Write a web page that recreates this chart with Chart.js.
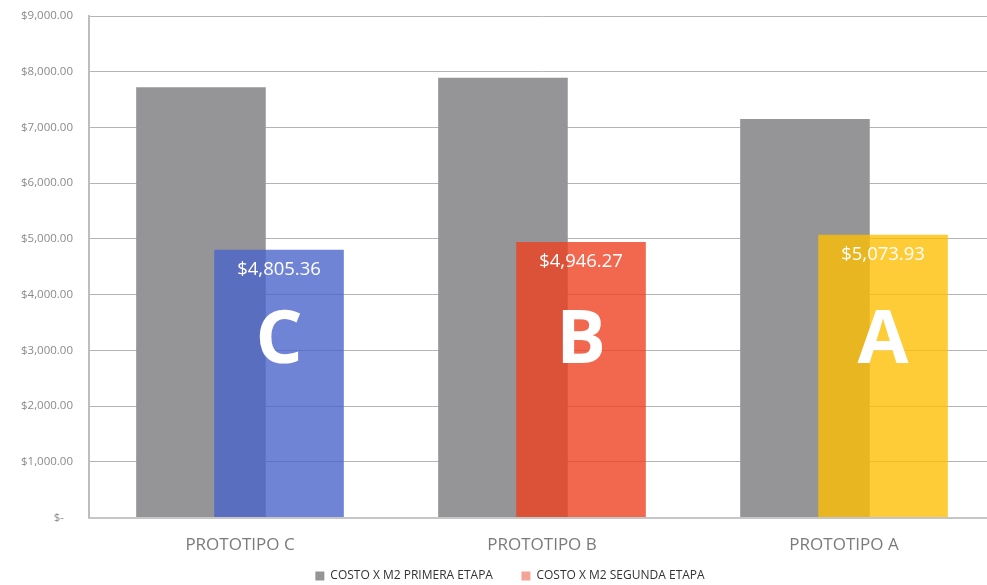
<!DOCTYPE html>
<html>
<head>
<meta charset="utf-8">
<script src="https://cdn.jsdelivr.net/npm/chart.js@4.4.1/dist/chart.umd.min.js"></script>
<style>
  html, body { margin: 0; padding: 0; background: #ffffff; overflow: hidden; }
  #wrap { width: 1020px; height: 592px; position: relative; }
</style>
</head>
<body>
<div id="wrap"><canvas id="chart"></canvas></div>
<script>
// Categories and values
const categories = ['PROTOTIPO C', 'PROTOTIPO B', 'PROTOTIPO A'];
const letters = ['C', 'B', 'A'];
const seriesNames = ['COSTO X M2 PRIMERA ETAPA', 'COSTO X M2 SEGUNDA ETAPA'];
const primeraEtapa = [7720, 7890, 7150];
const segundaEtapa = [4805.36, 4946.27, 5073.93];
const yTicks = [0, 1000, 2000, 3000, 4000, 5000, 6000, 7000, 8000, 9000];

const grayColor = '#959597';
const stageColors = ['rgba(74,99,203,0.79)', 'rgba(238,63,31,0.79)', 'rgba(254,190,0,0.79)'];
const legendSecondColor = '#f4a497';
const fontFamily = '"Open Sans", "Noto Sans", sans-serif';

const money = v => '$' + v.toLocaleString('en-US', { minimumFractionDigits: 2, maximumFractionDigits: 2 });

// Draw the second-stage bars on top of the first-stage ones, then their labels
const overlayPlugin = {
  id: 'overlay',
  afterLayout(chart) {
    // centre the legend row a little to the right
    if (chart.legend) chart.legend.left += 25;
  },
  beforeDatasetDraw(chart, args) {
    if (args.index === 1) return false;
  },
  afterDatasetsDraw(chart) {
    const meta = chart.getDatasetMeta(1);
    const ctx = chart.ctx;
    meta.controller.draw();
    const y = chart.scales.y;
    ctx.save();
    ctx.fillStyle = '#ffffff';
    ctx.textAlign = 'center';
    meta.data.forEach((bar, i) => {
      ctx.font = '18.5px ' + fontFamily;
      ctx.textBaseline = 'middle';
      ctx.fillText(money(segundaEtapa[i]), bar.x, bar.y + 20);
      ctx.font = 'bold 74px ' + fontFamily;
      ctx.textBaseline = 'middle';
      ctx.fillText(letters[i], bar.x, y.getPixelForValue(3150));
    });
    ctx.restore();
  }
};

new Chart(document.getElementById('chart'), {
  type: 'bar',
  data: {
    labels: categories,
    datasets: [
      {
        label: seriesNames[0],
        data: primeraEtapa,
        backgroundColor: grayColor,
        categoryPercentage: 0.517,
        barPercentage: 1.66
      },
      {
        label: seriesNames[1],
        data: segundaEtapa,
        backgroundColor: stageColors,
        categoryPercentage: 0.517,
        barPercentage: 1.66
      }
    ]
  },
  options: {
    responsive: true,
    maintainAspectRatio: false,
    animation: false,
    layout: { padding: { top: 16, right: 25, left: 0, bottom: 0 } },
    plugins: {
      tooltip: { enabled: false },
      legend: {
        position: 'bottom',
        labels: {
          font: { family: fontFamily, size: 12 },
          color: '#333333',
          boxWidth: 9,
          boxHeight: 9,
          padding: 4.5,
          generateLabels(chart) {
            // wider gap after the first entry
            return chart.data.datasets.map((ds, i) => ({
              text: i === 0 ? ds.label + '\u2003\u2003' : ds.label,
              fillStyle: i === 0 ? grayColor : legendSecondColor,
              strokeStyle: 'rgba(0,0,0,0)',
              lineWidth: 0,
              fontColor: '#333333',
              datasetIndex: i
            }));
          }
        }
      }
    },
    scales: {
      x: {
        grid: { display: false, drawTicks: false },
        border: { color: '#c6c6c6', width: 2 },
        afterFit(scale) { scale.height = 48; },
        ticks: { color: '#7a7a7a', font: { family: fontFamily, size: 17 }, padding: 17 }
      },
      y: {
        min: 0,
        max: 9000,
        afterBuildTicks(scale) { scale.ticks = yTicks.map(v => ({ value: v })); },
        afterFit(scale) {
          scale.width = 89;
          scale.paddingTop = 0;
          scale.paddingBottom = 0;
        },
        grid: { color: '#b4b4b4', lineWidth: 1, drawTicks: false },
        border: { color: '#bdbdbd', width: 2 },
        ticks: {
          color: '#8a8a8a',
          font: { family: fontFamily, size: 11.5 },
          padding: 16,
          callback: v => v === 0 ? '$-   ' : money(v)
        }
      }
    }
  },
  plugins: [overlayPlugin]
});
</script>
</body>
</html>
